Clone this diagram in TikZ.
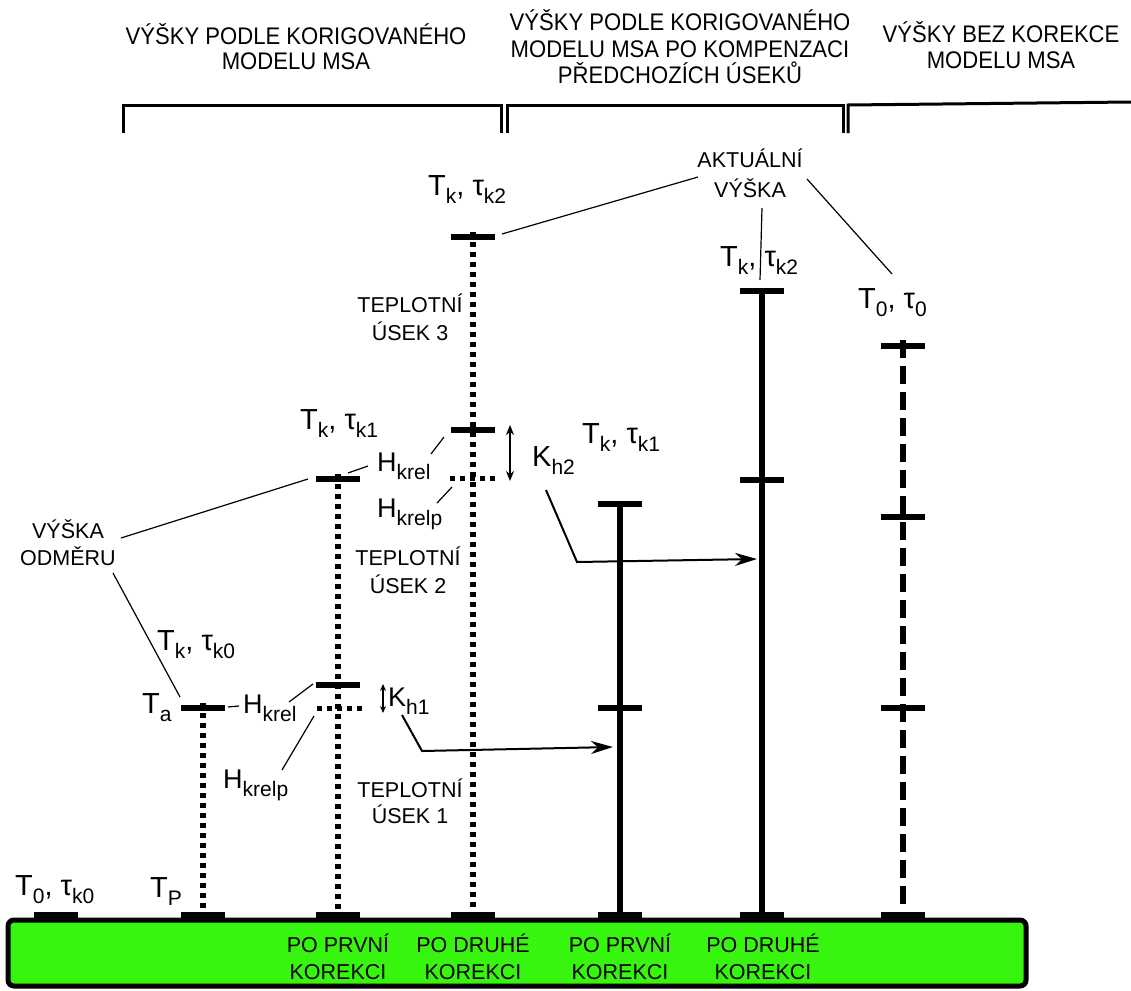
\documentclass[tikz,border=0pt]{standalone}
\usepackage{fontspec}
\setmainfont{Liberation Sans}
\newfontfamily\hdrfont[FakeStretch=0.92]{Liberation Sans}
\usetikzlibrary{arrows.meta}
\definecolor{grn}{RGB}{55,245,15}
\newcommand\lowsub[1]{\raisebox{-8pt}{\fontsize{21}{21}\selectfont #1}}
\tikzset{
  big/.style={font=\fontsize{29}{29}\selectfont, inner sep=0, anchor=base west},
  mid/.style={font=\fontsize{27}{27}\selectfont, inner sep=0, anchor=base west},
  txt/.style={font=\fontsize{21.5}{21.5}\selectfont, inner sep=0, anchor=base},
  hdr/.style={font=\hdrfont\fontsize{24}{24}\selectfont, inner sep=0, anchor=base},
  bar/.style={line width=6},
  dotcol/.style={line width=6, dash pattern=on 5pt off 5pt},
  dotbar/.style={line width=5, dash pattern=on 5pt off 5pt},
  solcol/.style={line width=6},
  dashcol/.style={line width=6, dash pattern=on 18pt off 8pt},
  thin/.style={line width=1.2},
  karrow/.style={line width=2, -{Stealth[length=22pt,width=13pt,inset=7pt]}},
  dbl/.style={line width=1.6, {Stealth[length=10pt,width=8pt]}-{Stealth[length=10pt,width=8pt]}},
}
\begin{document}
\begin{tikzpicture}[x=1pt,y=-1pt]
\useasboundingbox (0,0) rectangle (1131,990);

% headers
\node[hdr] (h1a) at (296,45) {VÝŠKY PODLE KORIGOVANÉHO};
\node[hdr] (h1b) at (296,70) {MODELU MSA};
\node[hdr] (h2a) at (680,31) {VÝŠKY PODLE KORIGOVANÉHO};
\node[hdr] (h2b) at (680,57) {MODELU MSA PO KOMPENZACI};
\node[hdr] (h2c) at (680,83) {PŘEDCHOZÍCH ÚSEKŮ};
\node[hdr] (h3a) at (1001,42) {VÝŠKY BEZ KOREKCE};
\node[hdr] (h3b) at (1001,68) {MODELU MSA};

% brackets
\draw[line width=3] (123,133) -- (123,105) -- (501,105) -- (501,133);
\draw[line width=3] (507,133) -- (507,105) -- (843,105) -- (843,133);
\draw[line width=3] (848,133) -- (848,105) -- (1131,102);

% ground box
\draw[line width=5, fill=grn, rounded corners=6] (8,920) rectangle (1026,986);
\foreach \n/\x in {g0/56, gA/203, gB/338, gC/473, gD/620, gE/762, gF/903}
  \coordinate (\n) at (\x,915);
\foreach \n in {g0,gA,gB,gC,gD,gE,gF}
  \draw[bar] ([xshift=-22pt]\n) -- ([xshift=22pt]\n);

% column coordinates
\coordinate (Atop) at (203,708);
\coordinate (Btop) at (338,479);
\coordinate (Bmid) at (338,685);
\coordinate (Bdot) at (338,708);
\coordinate (Ctop) at (473,237);
\coordinate (Cmid) at (473,430);
\coordinate (Cdot) at (473,478);
\coordinate (Dtop) at (620,504);
\coordinate (Dmid) at (620,708);
\coordinate (Etop) at (762,291);
\coordinate (Emid) at (762,480);
\coordinate (Ftop) at (903,346);
\coordinate (Fmid) at (903,517);
\coordinate (Flow) at (903,708);

% columns
\draw[dotcol] ([yshift=5pt]Atop) -- (gA);
\draw[dotcol] ([yshift=5pt]Btop) -- (gB);
\draw[dotcol] ([yshift=5pt]Ctop) -- (gC);
\draw[solcol] (Dtop) -- (gD);
\draw[solcol] (Etop) -- (gE);
\draw[dashcol] ([yshift=6pt]Ftop) -- (gF);

% bars
\foreach \n in {Atop,Btop,Bmid,Ctop,Cmid,Dtop,Dmid,Etop,Emid,Ftop,Fmid,Flow}
  \draw[bar] ([xshift=-22pt]\n) -- ([xshift=22pt]\n);
\draw[dotbar] ([xshift=-21pt]Bdot) -- ([xshift=24pt]Bdot);
\draw[dotbar] ([xshift=-23pt]Cdot) -- ([xshift=22pt]Cdot);

% labels
\node[big] (lk2) at (428,195) {T\lowsub{k}, τ\lowsub{k2}};
\node[big] (rk2) at (720,266) {T\lowsub{k}, τ\lowsub{k2}};
\node[big] (r0) at (858,308) {T\lowsub{0}, τ\lowsub{0}};
\node[big] (lk1) at (300,429) {T\lowsub{k}, τ\lowsub{k1}};
\node[big] (rk1) at (582,443) {T\lowsub{k}, τ\lowsub{k1}};
\node[big] (lk0) at (157,650) {T\lowsub{k}, τ\lowsub{k0}};
\node[big] (ta) at (142,713) {T\lowsub{a}};
\node[big] (t0) at (15,895) {T\lowsub{0}, τ\lowsub{k0}};
\node[big] (tp) at (150,897) {T\lowsub{P}};
\node[mid] (hk2) at (377,471) {H\lowsub{krel}};
\node[mid] (hp2) at (377,517) {H\lowsub{krelp}};
\node[mid] (hk1) at (243,713) {H\lowsub{krel}};
\node[mid] (hp1) at (223,788) {H\lowsub{krelp}};
\node[big] (kh2) at (532,466) {K\lowsub{h2}};
\node[mid] (kh1) at (388,706) {K\lowsub{h1}};

\node[txt] (u3a) at (410,312) {TEPLOTNÍ};
\node[txt] (u3b) at (410,340) {ÚSEK 3};
\node[txt] (u2a) at (408,565) {TEPLOTNÍ};
\node[txt] (u2b) at (408,593) {ÚSEK 2};
\node[txt] (u1a) at (410,797) {TEPLOTNÍ};
\node[txt] (u1b) at (410,823) {ÚSEK 1};
\node[txt] (oda) at (68,538) {VÝŠKA};
\node[txt] (odb) at (68,565) {ODMĚRU};
\node[txt] (aka) at (750,167) {AKTUÁLNÍ};
\node[txt] (akb) at (750,197) {VÝŠKA};

\foreach \n/\x/\a/\b in {b1/338/PO PRVNÍ/KOREKCI, b2/473/PO DRUHÉ/KOREKCI, b3/620/PO PRVNÍ/KOREKCI, b4/763/PO DRUHÉ/KOREKCI}{
  \node[txt] (\n a) at (\x,952) {\a};
  \node[txt] (\n b) at (\x,979) {\b};
}

% thin connectors
\coordinate (ak1) at (698,177); \coordinate (ak1e) at (502,234);
\coordinate (ak2) at (762,208); \coordinate (ak2e) at (760,280);
\coordinate (ak3) at (807,179); \coordinate (ak3e) at (892,274);
\draw[thin] (ak1) -- (ak1e);
\draw[thin] (ak2) -- (ak2e);
\draw[thin] (ak3) -- (ak3e);
\coordinate (od1) at (121,538); \coordinate (od1e) at (308,479);
\coordinate (od2) at (113,573); \coordinate (od2e) at (180,697);
\draw[thin] (od1) -- (od1e);
\draw[thin] (od2) -- (od2e);
\coordinate (c1) at (431,454); \coordinate (c1e) at (444,437);
\coordinate (c2) at (348,473); \coordinate (c2e) at (368,466);
\coordinate (c3) at (437,503); \coordinate (c3e) at (452,487);
\coordinate (c4) at (228,707); \coordinate (c4e) at (239,706);
\coordinate (c5) at (289,702); \coordinate (c5e) at (313,684);
\coordinate (c6) at (282,770); \coordinate (c6e) at (314,716);
\draw[thin] (c1) -- (c1e);
\draw[thin] (c2) -- (c2e);
\draw[thin] (c3) -- (c3e);
\draw[thin] (c4) -- (c4e);
\draw[thin] (c5) -- (c5e);
\draw[thin] (c6) -- (c6e);

% K arrows
\coordinate (d2a) at (510,425); \coordinate (d2b) at (510,481);
\coordinate (d1a) at (383,684); \coordinate (d1b) at (383,713);
\draw[dbl] (d2a) -- (d2b);
\draw[line width=1.3, {Stealth[length=7pt,width=6pt]}-{Stealth[length=7pt,width=6pt]}] (d1a) -- (d1b);
\coordinate (k2s) at (546,490); \coordinate (k2m) at (577,562); \coordinate (k2e) at (757,559);
\coordinate (k1s) at (402,715); \coordinate (k1m) at (422,751); \coordinate (k1e) at (613,747);
\draw[karrow] (k2s) -- (k2m) -- (k2e);
\draw[karrow] (k1s) -- (k1m) -- (k1e);
\end{tikzpicture}
\end{document}
